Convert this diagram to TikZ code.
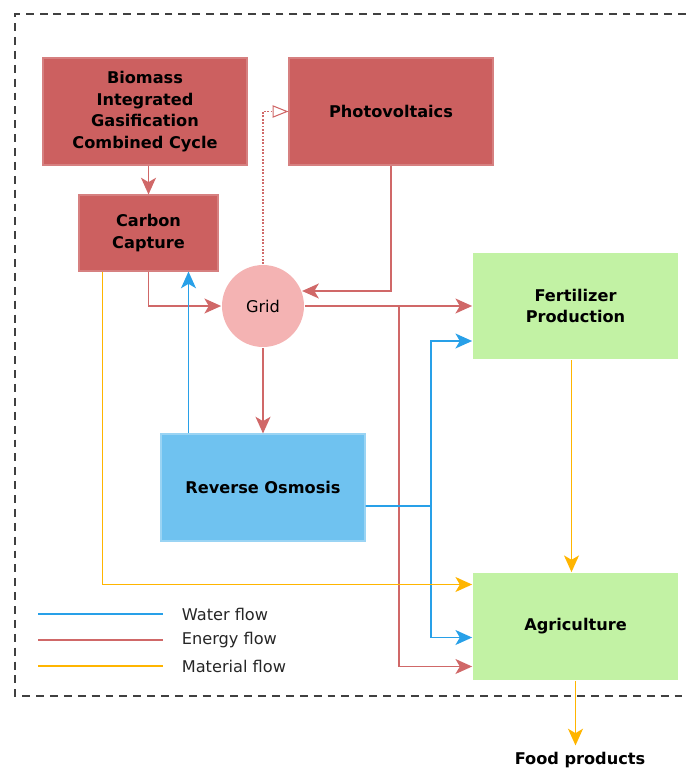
\documentclass[tikz,border=0pt]{standalone}
\usepackage{fontspec}
\setmainfont{DejaVu Sans}
\usepackage{xcolor}
\usepackage{tikz}
\usetikzlibrary{calc, arrows.meta, positioning}

\definecolor{procred}{RGB}{204,96,96}
\definecolor{gridpink}{RGB}{244,179,179}
\definecolor{fieldgreen}{RGB}{194,242,164}
\definecolor{roblue}{RGB}{111,194,240}
\definecolor{waterline}{RGB}{40,160,232}
\definecolor{energyline}{RGB}{208,104,104}
\definecolor{matline}{RGB}{255,181,0}

\begin{document}
\begin{tikzpicture}[x=0.02cm, y=0.02cm, line width=1pt]
\tikzstyle{redbox} = [draw=procred!80!white, fill=procred, align=center, line width=0.6pt, font=\bfseries\fontsize{9.2}{12.2}\selectfont]
\tikzstyle{greenbox} = [fill=fieldgreen, align=center, minimum width=4.1cm, minimum height=2.14cm, font=\bfseries\fontsize{9.2}{12.2}\selectfont]
\tikzstyle{bluebox} = [draw=roblue!70!white, fill=roblue, align=center, line width=0.6pt, minimum width=4.08cm, minimum height=2.14cm, font=\bfseries\fontsize{9.2}{12.2}\selectfont]
\tikzstyle{gridnode} = [circle, fill=gridpink, minimum size=1.64cm, font=\fontsize{9.2}{12.2}\selectfont]
\tikzstyle{plain} = [draw=none, font=\bfseries\fontsize{9.2}{12.2}\selectfont]
\tikzstyle{legend} = [draw=none, anchor=west, inner sep=0pt, text=black!85, font=\fontsize{9.2}{12.2}\selectfont]
\tikzstyle{flow} = [-{Stealth[length=9.5pt, width=8.5pt, inset=2.5pt]}]
\tikzstyle{energy} = [draw=energyline]
\tikzstyle{water} = [draw=waterline]
\tikzstyle{material} = [draw=matline]
\tikzstyle{border} = [draw=black!75, line width=0.8pt, dash pattern=on 4.5pt off 3.4pt]

\useasboundingbox (0, 0) rectangle (686, -771);

\node[redbox, minimum width=4.08cm, minimum height=2.14cm]	at (145, -111.5)	(bigcc)	{Biomass\\Integrated\\Gasification\\Combined Cycle};
\node[redbox, minimum width=4.08cm, minimum height=2.14cm]	at (391, -111.5)	(pv)	{Photovoltaics};
\node[redbox, minimum width=2.78cm, minimum height=1.52cm]	at (148.5, -233)	(cc)	{Carbon\\Capture};
\node[gridnode]			at (263, -306)		(grid)	{Grid};
\node[greenbox]			at (575.5, -306)	(fert)	{Fertilizer\\Production};
\node[bluebox]			at (263, -487.5)	(ro)	{Reverse Osmosis};
\node[greenbox]			at (575.5, -626.5)	(agri)	{Agriculture};
\node[plain]			at (580, -760)		(food)	{Food products};

% energy flow
\draw[energy, flow] (bigcc.south -| cc.north) -- (cc.north);
\draw[energy, flow] (grid) -- (ro);
\draw[energy, flow] (grid) -- (fert);
\draw[energy, flow] (cc.south) |- (grid);
\draw[energy, flow] (pv.south) |- (grid.21);
\coordinate (esplit) at (399, -306);
\draw[energy, flow] (esplit) |- ([shift={(0,-40)}]agri.west);
\draw[energy, line width=0.6pt, dash pattern=on 1pt off 0.9pt, -{Triangle[open, length=9pt, width=7pt]}] (grid.north) |- (pv.west);

% water flow
\draw[water, flow] ([shift={(28,0)}]ro.north west) -- ([shift={(28,0)}]ro.north west |- cc.south);
\coordinate (wsplit) at (431, -506);
\draw[water] ([shift={(0,-18.5)}]ro.east) -- (wsplit);
\draw[water, flow] (wsplit) |- ([shift={(0,-35)}]fert.west);
\draw[water, flow] (wsplit) |- ([shift={(0,-11)}]agri.west);

% material flow
\draw[material, flow] ([shift={(24,0)}]cc.south west) |- ([shift={(0,42)}]agri.west);
\draw[material, flow] ([shift={(-4,0)}]fert.south) -- ([shift={(-4,0)}]agri.north);
\draw[material, flow] (agri.south) -- (agri.south |- food.north);

% legend
\node[legend]	at (181, -614)	(lwater)	{Water flow};
\node[legend]	at (181, -640)	(lenergy)	{Energy flow};
\node[legend]	at (181, -666)	(lmat)		{Material flow};
\coordinate (kwater) at (38, -614);
\coordinate (kenergy) at (38, -640);
\coordinate (kmat) at (38, -666);
\draw[water, line width=0.6pt] (kwater) -- ++(125, 0);
\draw[energy, line width=0.6pt] (kenergy) -- ++(125, 0);
\draw[material, line width=0.6pt] (kmat) -- ++(125, 0);

\draw[border] (686, -14) -- (15, -14) -- (15, -696) -- (686, -696);
\end{tikzpicture}
\end{document}
